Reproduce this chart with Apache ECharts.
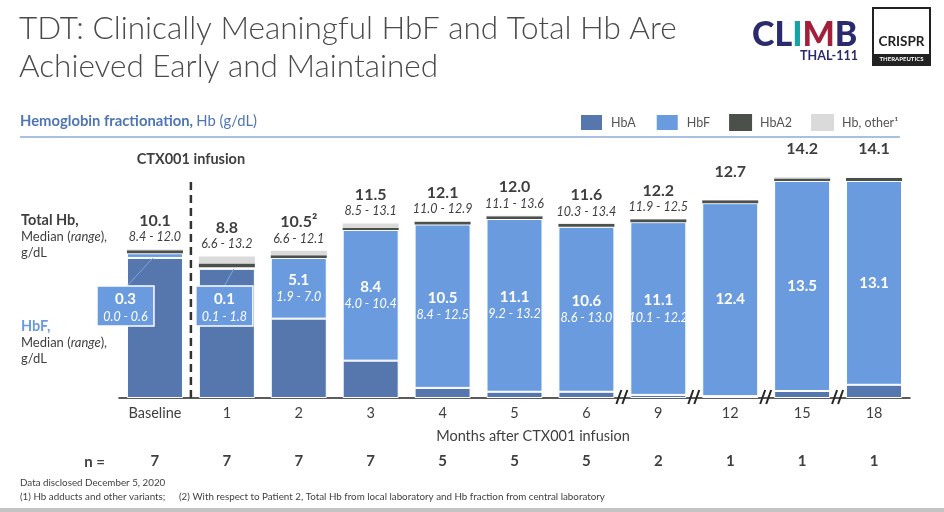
<!DOCTYPE html>
<html><head><meta charset="utf-8">
<script src="https://cdn.jsdelivr.net/npm/echarts@6/dist/echarts.min.js"></script>
<style>html,body{margin:0;padding:0;background:#fff}#c{width:944px;height:512px}</style>
</head><body><div id="c"></div>
<script>
// ---- data ----
const categories = ['Baseline','1','2','3','4','5','6','9','12','15','18'];
const nPatients = [7,7,7,7,5,5,5,2,1,1,1];
const totalHbMedian = ['10.1','8.8','10.5\u00B2','11.5','12.1','12.0','11.6','12.2','12.7','14.2','14.1'];
const totalHbRange = ['8.4 - 12.0','6.6 - 13.2','6.6 - 12.1','8.5 - 13.1','11.0 - 12.9','11.1 - 13.6','10.3 - 13.4','11.9 - 12.5','','',''];
const hbfMedian = ['0.3','0.1','5.1','8.4','10.5','11.1','10.6','11.1','12.4','13.5','13.1'];
const hbfRange = ['0.0 - 0.6','0.1 - 1.8','1.9 - 7.0','4.0 - 10.4','8.4 - 12.5','9.2 - 13.2','8.6 - 13.0','10.1 - 12.2','','',''];
// stacked segment heights as drawn (g/dL)
const hbA     = [9.0, 8.3, 5.1, 2.4, 0.65, 0.4, 0.4, 0.2, 0.12, 0.45, 0.85];
const hbF     = [0.3, 0.1, 3.9, 8.4, 10.5, 11.1, 10.6, 11.1, 12.4, 13.5, 13.1];
const hbA2    = [0.2, 0.25, 0.18, 0.12, 0.18, 0.18, 0.18, 0.18, 0.18, 0.16, 0.18];
const hbOther = [0.05, 0.45, 0.28, 0.3, 0.05, 0.03, 0.03, 0.03, 0.03, 0.08, 0.03];
const axisBreakAfter = [6, 7, 8, 9];   // category index after which the axis is broken
const infusionAfter = [0];             // CTX001 infusion between Baseline and month 1
const calloutIdx = [0, 1];             // HbF labels drawn as callout boxes

// ---- styles ----
const FONT = 'Lato, "Open Sans", "DejaVu Sans", sans-serif';
const TXT = '#3f3f3f';
const C_HBA = '#5677ad', C_HBF = '#6b9bdf', C_HBA2 = '#4b504b', C_OTHER = '#dadada';
const calloutStyle = [{dx: -29.5, lx0: 1.5, lx1: -2}, {dx: -2.5, lx0: 0, lx1: 7}];

const chart = echarts.init(document.getElementById('c'), null, {renderer: 'canvas'});

function txt(text, x, y, o) {
  return {type: 'text', x: x, y: y, style: Object.assign({text: text, fill: TXT, fontFamily: FONT, fontSize: 13, verticalAlign: 'middle', align: 'left'}, o || {})};
}

const baseGraphics = [
  txt('TDT: Clinically Meaningful HbF and Total Hb Are', 19, 29, {fontSize: 31.5, fontWeight: 300, fill: '#4a4a4a'}),
  txt('Achieved Early and Maintained', 19, 67, {fontSize: 31.5, fontWeight: 300, fill: '#4a4a4a'}),
  // CLIMB logo
  txt('{n|CL}{t|I}{r|M}{n|B}', 752, 35, {fontSize: 34, fontWeight: 900, rich: {
    n: {fill: '#2b2a6c', fontSize: 34, fontWeight: 900, fontFamily: FONT},
    t: {fill: '#17a2a6', fontSize: 34, fontWeight: 900, fontFamily: FONT},
    r: {fill: '#a3203a', fontSize: 34, fontWeight: 900, fontFamily: FONT}}}),
  txt('THAL-111', 858, 56, {fontSize: 12.5, fontWeight: 'bold', fill: '#2b2a6c', align: 'right'}),
  // CRISPR logo
  {type: 'rect', shape: {x: 873, y: 8, width: 57, height: 57}, style: {fill: '#fff', stroke: '#222', lineWidth: 2}},
  {type: 'rect', shape: {x: 873, y: 54, width: 57, height: 11}, style: {fill: '#222'}},
  txt('CRISPR', 901.5, 42, {fontSize: 13.5, fontWeight: 'bold', fill: '#222', align: 'center'}),
  txt('THERAPEUTICS', 901.5, 59.5, {fontSize: 6, fontWeight: 'bold', fill: '#fff', align: 'center'}),
  // subtitle
  txt('{b|Hemoglobin fractionation,} {n|Hb (g/dL)}', 20, 121, {rich: {
    b: {fontSize: 14.8, fontWeight: 'bold', fill: '#4f75b3', fontFamily: FONT},
    n: {fontSize: 14.8, fill: '#4f75b3', fontFamily: FONT}}}),
  {type: 'line', shape: {x1: 20, y1: 137, x2: 900, y2: 137}, style: {stroke: '#8eabd9', lineWidth: 1.5}},
  // left annotations
  txt('Total Hb,', 21, 220, {fontSize: 14.5, fontWeight: 'bold'}),
  txt('{a|Median (}{i|range}{a|),}', 21, 237, {rich: {a: {fontSize: 13, fill: TXT, fontFamily: FONT}, i: {fontSize: 13, fontStyle: 'italic', fill: TXT, fontFamily: FONT}}}),
  txt('g/dL', 21, 253, {fontSize: 13}),
  txt('HbF,', 21, 326, {fontSize: 14.5, fontWeight: 'bold', fill: C_HBF}),
  txt('{a|Median (}{i|range}{a|),}', 21, 343, {rich: {a: {fontSize: 13, fill: TXT, fontFamily: FONT}, i: {fontSize: 13, fontStyle: 'italic', fill: TXT, fontFamily: FONT}}}),
  txt('g/dL', 21, 359, {fontSize: 13}),
  // axis title and n row
  txt('Months after CTX001 infusion', 533, 436, {fontSize: 14.5, align: 'center'}),
  txt('n =', 105, 462, {fontSize: 15, fontWeight: 'bold', align: 'right'}),
  // footnotes
  txt('Data disclosed December 5, 2020', 20, 483, {fontSize: 9.8}),
  txt('(1) Hb adducts and other variants;', 20, 496.5, {fontSize: 9.8}),
  txt('(2) With respect to Patient 2, Total Hb from local laboratory and Hb fraction from central laboratory', 179, 496.5, {fontSize: 9.8}),
  {type: 'rect', shape: {x: 0, y: 508, width: 944, height: 4}, style: {fill: '#c4c4c4'}}
];

const option = {
  animation: false,
  textStyle: {fontFamily: FONT},
  grid: {left: 119, right: 34, top: 149, bottom: 114},
  legend: {
    left: 574, top: 108, itemWidth: 23, itemHeight: 17, itemGap: 19, icon: 'rect', selectedMode: false,
    textStyle: {fontSize: 12.5, color: '#555', fontFamily: FONT, padding: [0, 0, 0, 3]},
    data: ['HbA', 'HbF', 'HbA2', 'Hb, other\u00B9']
  },
  xAxis: [
    {type: 'category', data: categories,
     axisLine: {lineStyle: {color: '#262626', width: 1.5}}, axisTick: {show: false},
     axisLabel: {fontSize: 14.5, color: TXT, margin: 8, fontFamily: FONT}},
    {type: 'category', data: categories, position: 'bottom', offset: 48,
     axisLine: {show: false}, axisTick: {show: false},
     axisLabel: {formatter: (v, i) => String(nPatients[i]), fontSize: 15, fontWeight: 'bold', color: TXT, fontFamily: FONT}}
  ],
  yAxis: {type: 'value', min: 0, max: 16, show: false},
  series: [
    {name: 'HbA', type: 'bar', stack: 'hb', barWidth: 56, data: hbA,
     itemStyle: {color: C_HBA, borderColor: '#fff', borderWidth: 1}},
    {name: 'HbF', type: 'bar', stack: 'hb', barWidth: 56, data: hbF,
     itemStyle: {color: C_HBF, borderColor: '#fff', borderWidth: 1},
     label: {show: true, position: 'inside',
       formatter: p => calloutIdx.indexOf(p.dataIndex) >= 0 ? '' :
         (hbfRange[p.dataIndex] ? '{v|' + hbfMedian[p.dataIndex] + '}\n{r|' + hbfRange[p.dataIndex] + '}' : '{v|' + hbfMedian[p.dataIndex] + '}'),
       rich: {v: {fontSize: 15, fontWeight: 'bold', color: '#fff', lineHeight: 18, fontFamily: FONT},
              r: {fontSize: 12.5, fontStyle: 'italic', color: '#fff', lineHeight: 17, fontFamily: FONT}}}},
    {name: 'HbA2', type: 'bar', stack: 'hb', barWidth: 56, data: hbA2, itemStyle: {color: C_HBA2}},
    {name: 'Hb, other\u00B9', type: 'bar', stack: 'hb', barWidth: 56, data: hbOther, itemStyle: {color: C_OTHER},
     label: {show: true, position: 'top', distance: 4,
       formatter: p => '{t|' + totalHbMedian[p.dataIndex] + '}\n{r|' + (totalHbRange[p.dataIndex] || ' ') + '}',
       rich: {t: {fontSize: 16, fontWeight: 'bold', color: TXT, lineHeight: 17, fontFamily: FONT},
              r: {fontSize: 12.5, fontStyle: 'italic', color: TXT, lineHeight: 16, fontFamily: FONT}}}},
    // infusion dashed line
    {type: 'custom', silent: true, clip: false, z: 5, data: infusionAfter.map(i => [i, 0]),
     renderItem: (params, api) => {
       const p = api.coord([api.value(0), 0]);
       const x = p[0] + api.size([1, 0])[0] / 2, y = p[1];
       return {type: 'group', children: [
         {type: 'line', shape: {x1: x, y1: y, x2: x, y2: y - 221}, style: {stroke: '#333', lineWidth: 2.5, lineDash: [8, 5]}},
         {type: 'text', style: {text: 'CTX001 infusion', x: x, y: y - 239, align: 'center', verticalAlign: 'middle',
           fill: TXT, fontSize: 14.5, fontWeight: 'bold', fontFamily: FONT}}
       ]};
     }},
    // HbF callouts for Baseline and month 1
    {type: 'custom', silent: true, clip: false, z: 6, data: calloutIdx.map(i => [i, hbA[i]]),
     renderItem: (params, api) => {
       const idx = api.value(0);
       const base = api.coord([idx, 0]);
       const seg = api.coord([idx, api.value(1)]);
       const cfg = calloutStyle[params.dataIndex];
       const bx = base[0] + cfg.dx, by = base[1] - 112;
       return {type: 'group', children: [
         {type: 'line', shape: {x1: bx + cfg.lx0, y1: by, x2: base[0] + cfg.lx1, y2: seg[1]}, style: {stroke: '#7aa6e6', lineWidth: 1}},
         {type: 'rect', shape: {x: bx - 28.5, y: by, width: 57, height: 40}, style: {fill: C_HBF, stroke: '#fff', lineWidth: 1.5}},
         {type: 'text', style: {text: hbfMedian[idx], x: bx, y: by + 13, align: 'center', verticalAlign: 'middle', fill: '#fff', fontSize: 15, fontWeight: 'bold', fontFamily: FONT}},
         {type: 'text', style: {text: hbfRange[idx], x: bx, y: by + 31, align: 'center', verticalAlign: 'middle', fill: '#fff', fontSize: 12.5, fontStyle: 'italic', fontFamily: FONT}}
       ]};
     }}
  ],
  graphic: baseGraphics
};
chart.setOption(option);

// axis break marks, placed from the category axis scale
const breakMarks = [];
axisBreakAfter.forEach(i => {
  const a = chart.convertToPixel({xAxisIndex: 0, yAxisIndex: 0}, [i, 0]);
  const b = chart.convertToPixel({xAxisIndex: 0, yAxisIndex: 0}, [i + 1, 0]);
  const x = (a[0] + b[0]) / 2, y = a[1];
  breakMarks.push({type: 'line', z: 100, shape: {x1: x - 6, y1: y + 6, x2: x - 1, y2: y - 8}, style: {stroke: '#262626', lineWidth: 2}});
  breakMarks.push({type: 'line', z: 100, shape: {x1: x, y1: y + 6, x2: x + 5, y2: y - 8}, style: {stroke: '#262626', lineWidth: 2}});
});
chart.setOption({graphic: baseGraphics.concat(breakMarks)});
</script>
</body></html>
